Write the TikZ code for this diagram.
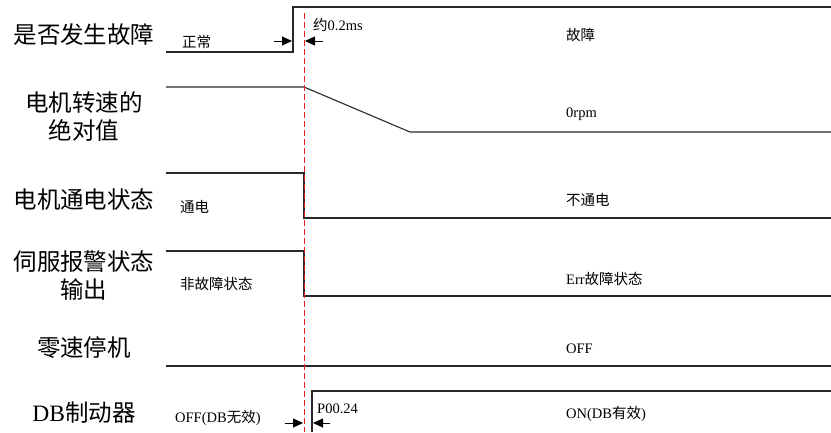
\documentclass[tikz,border=0pt]{standalone}
\usepackage{fontspec}
\setmainfont{Liberation Serif}
\newfontfamily\cjk{Noto Sans CJK SC}
\usepackage{tikz}
\usetikzlibrary{arrows.meta,calc,positioning}
\definecolor{sigc}{RGB}{40,40,40}
\definecolor{cutc}{RGB}{235,30,30}
\newcommand{\zh}[1]{{\cjk #1}}

\begin{document}
\begin{tikzpicture}[x=1pt,y=-1pt,
  sig/.style={line width=1.1pt,sigc},
  cut/.style={line width=1pt,cutc,dash pattern=on 6pt off 3pt},
  dim/.style={-{Triangle[length=10pt,width=9pt]},line width=0.9pt,black},
  rowname/.style={font=\fontsize{23.5}{28}\selectfont,align=center},
  lbl/.style={font=\fontsize{14.5}{16}\selectfont,anchor=west,inner sep=0pt}]
  \useasboundingbox (0,0) rectangle (831,432);
  % row names
  \node[rowname] (fault) at (84,35) {\zh{是否发生故障}};
  \node[rowname] (speed) at (84,117) {\zh{电机转速的}\\\zh{绝对值}};
  \node[rowname] (power) at (84,200) {\zh{电机通电状态}};
  \node[rowname] (alarm) at (84,276) {\zh{伺服报警状态}\\\zh{输出}};
  \node[rowname] (zero) at (84,348) {\zh{零速停机}};
  \node[rowname] (db) at (84,413) {DB\zh{制动器}};
  % waveforms
  \draw[sig] (166,52) -- (293,52) -- (293,7) -- (831,7);
  \draw[sig] (166,87) -- (304,87) -- (410,132) -- (831,132);
  \draw[sig] (166,173) -- (304,173) -- (304,218) -- (831,218);
  \draw[sig] (166,251) -- (304,251) -- (304,296) -- (831,296);
  \draw[sig] (166,366) -- (831,366);
  \draw[sig] (312,432) -- (312,391) -- (831,391);
  % fault instant
  \draw[cut] (304,13) -- (304,432);
  % delays
  \draw[dim] (274,41) -- (292,41);
  \draw[dim] (323,41) -- (305,41);
  \draw[dim] (285,423) -- (303,423);
  \draw[dim] (330,423) -- (313,423);
  % state labels
  \node[lbl] (faultlo) at (182,42) {\zh{正常}};
  \node[lbl] (faulthi) at (566,35) {\zh{故障}};
  \node[lbl] (delay) at (313,25) {\zh{约}0.2ms};
  \node[lbl] (speedlo) at (566,114) {0rpm};
  \node[lbl] (poweron) at (180,207) {\zh{通电}};
  \node[lbl] (poweroff) at (566,200) {\zh{不通电}};
  \node[lbl] (alarmok) at (180,284) {\zh{非故障状态}};
  \node[lbl] (alarmerr) at (566,279) {Err\zh{故障状态}};
  \node[lbl] (zerooff) at (566,349) {OFF};
  \node[lbl] (dboff) at (175,418) {OFF(DB\zh{无效})};
  \node[lbl] (dbdelay) at (317,409) {P00.24};
  \node[lbl] (dbon) at (566,414) {ON(DB\zh{有效})};
\end{tikzpicture}
\end{document}
